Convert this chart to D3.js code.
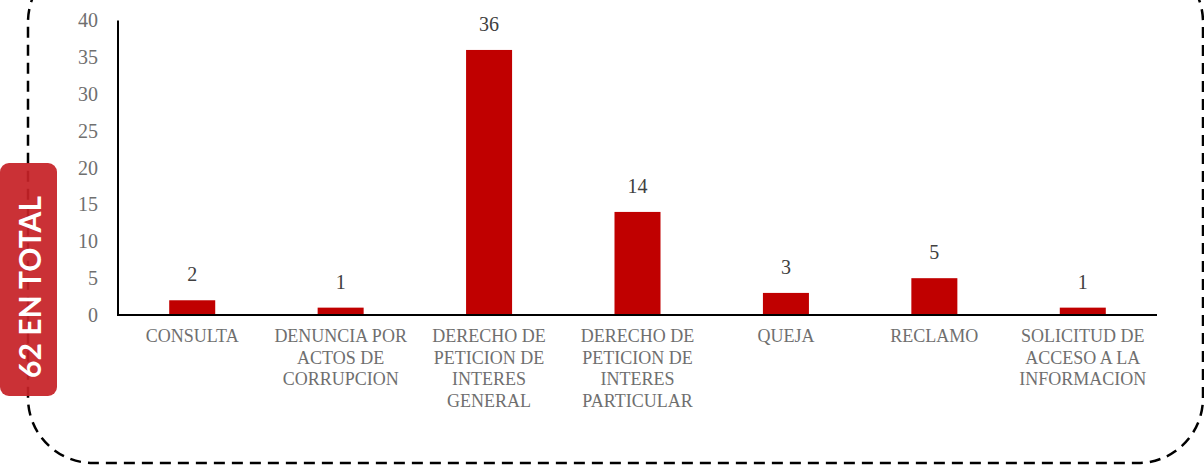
<!DOCTYPE html>
<html>
<head>
<meta charset="utf-8">
<script src="https://cdn.jsdelivr.net/npm/d3@7"></script>
<style>
    html, body { margin: 0; padding: 0; background: #fff; }
    svg { display: block; }
</style>
</head>
<body>
<div id="chart"></div>
<script>
// Categories (line breaks as in the original labels)
const categories = [
    'CONSULTA',
    'DENUNCIA POR\nACTOS DE\nCORRUPCION',
    'DERECHO DE\nPETICION DE\nINTERES\nGENERAL',
    'DERECHO DE\nPETICION DE\nINTERES\nPARTICULAR',
    'QUEJA',
    'RECLAMO',
    'SOLICITUD DE\nACCESO A LA\nINFORMACION'
];
const values = [2, 1, 36, 14, 3, 5, 1];
const yTicks = [0, 5, 10, 15, 20, 25, 30, 35, 40];
const badgeText = '62 EN TOTAL';

// Layout
const width = 1204;
const height = 469;
const plot = { left: 118, right: 1157, top: 20.5, bottom: 315 };
const barColor = '#c00000';
const serif = '"Liberation Serif", "DejaVu Serif", serif';

const svg = d3.select('#chart')
    .append('svg')
    .attr('width', width)
    .attr('height', height)
    .attr('viewBox', `0 0 ${width} ${height}`);

// Dashed rounded frame
svg.append('rect')
    .attr('x', 28)
    .attr('y', -43)
    .attr('width', 1175)
    .attr('height', 506)
    .attr('rx', 65)
    .attr('fill', 'none')
    .attr('stroke', '#000')
    .attr('stroke-width', 2.5)
    .attr('stroke-dasharray', '11 7');

// Scales
const x = d3.scaleBand()
    .domain(categories)
    .range([plot.left, plot.right])
    .paddingInner(0.69)
    .paddingOuter(0.345);

const y = d3.scaleLinear()
    .domain([0, 40])
    .range([plot.bottom, plot.top]);

// Y axis (labels only, plus a plain line)
const yAxis = svg.append('g')
    .attr('transform', `translate(${plot.left},0)`)
    .call(d3.axisLeft(y).tickValues(yTicks).tickSize(0).tickPadding(20));
yAxis.select('.domain').remove();
yAxis.selectAll('text')
    .attr('font-family', serif)
    .attr('font-size', 20)
    .attr('fill', '#6f6f6f');

svg.append('line')
    .attr('x1', plot.left)
    .attr('x2', plot.left)
    .attr('y1', y(40))
    .attr('y2', y(0))
    .attr('stroke', '#000')
    .attr('stroke-width', 2);

// Bars
svg.selectAll('rect.bar')
    .data(values)
    .join('rect')
    .attr('class', 'bar')
    .attr('x', (d, i) => x(categories[i]))
    .attr('y', d => y(d))
    .attr('width', x.bandwidth())
    .attr('height', d => y(0) - y(d))
    .attr('fill', barColor);

// X axis line
svg.append('line')
    .attr('x1', plot.left - 1)
    .attr('x2', plot.right)
    .attr('y1', y(0))
    .attr('y2', y(0))
    .attr('stroke', '#000')
    .attr('stroke-width', 2);

// Data labels
svg.selectAll('text.val')
    .data(values)
    .join('text')
    .attr('class', 'val')
    .attr('x', (d, i) => x(categories[i]) + x.bandwidth() / 2)
    .attr('y', d => y(d) - 19)
    .attr('text-anchor', 'middle')
    .attr('font-family', serif)
    .attr('font-size', 20)
    .attr('fill', '#404040')
    .text(d => d);

// Category labels
categories.forEach(cat => {
    const cx = x(cat) + x.bandwidth() / 2;
    const t = svg.append('text')
        .attr('text-anchor', 'middle')
        .attr('font-family', serif)
        .attr('font-size', 18)
        .attr('fill', '#6f6f6f');
    cat.split('\n').forEach((line, i) => {
        t.append('tspan')
            .attr('x', cx)
            .attr('y', 342 + i * 21.7)
            .text(line);
    });
});

// Badge
svg.append('rect')
    .attr('x', 0)
    .attr('y', 163)
    .attr('width', 57)
    .attr('height', 233)
    .attr('rx', 9)
    .attr('fill', '#c62127')
    .attr('fill-opacity', 0.93);

svg.append('text')
    .attr('transform', 'translate(41,287) rotate(-90)')
    .attr('text-anchor', 'middle')
    .attr('font-family', 'Lato, "Open Sans", sans-serif')
    .attr('font-weight', 'bold')
    .attr('font-size', 30)
    .attr('fill', '#fff')
    .text(badgeText);
</script>
</body>
</html>
